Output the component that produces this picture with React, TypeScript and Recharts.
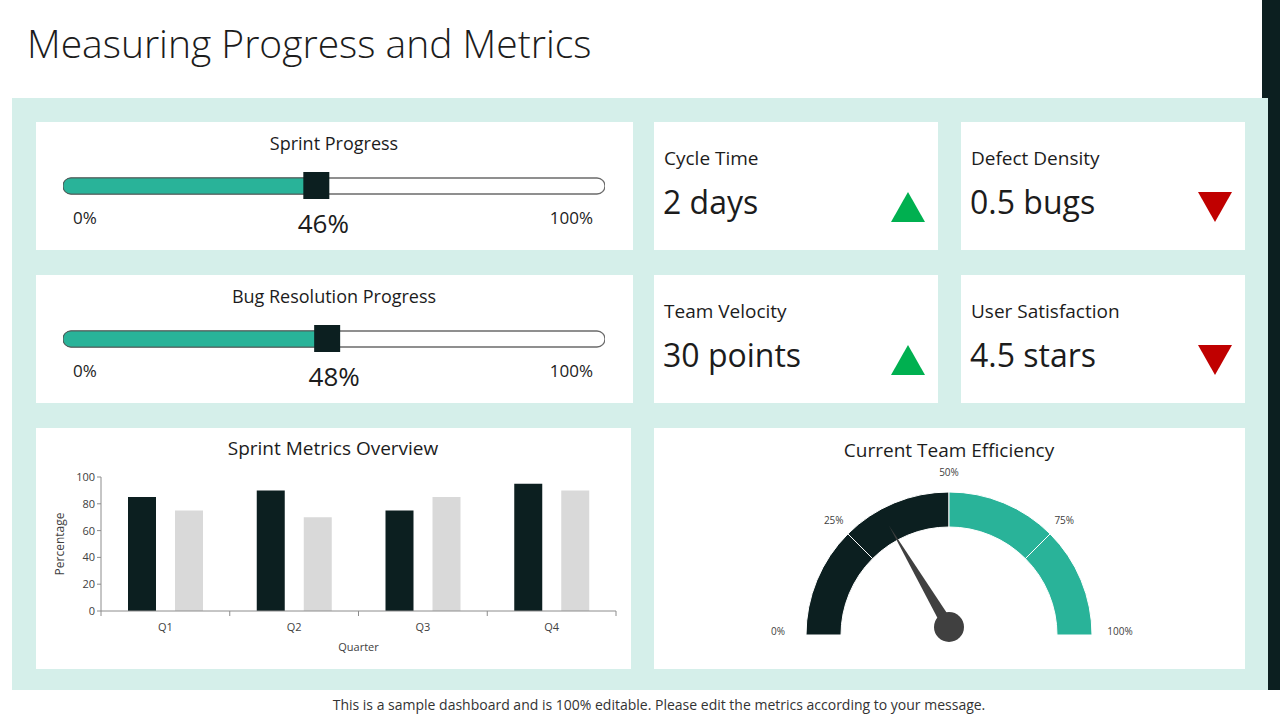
import React from 'react';
import { BarChart, Bar, XAxis, YAxis, PieChart, Pie, Cell } from 'recharts';

const FONT = '"Open Sans", "DejaVu Sans", sans-serif';
const TEAL = '#29b399';
const DARK = '#0c1f20';
const PANEL = '#d5efea';
const TEXT = '#1c1c1c';
const MUTED = '#404040';
const AXIS = '#8c8c8c';

// progress bars
const progressNames = ['Sprint Progress', 'Bug Resolution Progress'];
const progressValues = [46, 48];
const progressTicks = ['0%', '100%'];

// kpi cards
const kpiLabels = ['Cycle Time', 'Defect Density', 'Team Velocity', 'User Satisfaction'];
const kpiValues = ['2 days', '0.5 bugs', '30 points', '4.5 stars'];
const kpiTrend = ['up', 'down', 'up', 'down'];

// sprint metrics overview
const quarters = ['Q1', 'Q2', 'Q3', 'Q4'];
const seriesA = [85, 90, 75, 95];
const seriesB = [75, 70, 85, 90];
const yTicks = [0, 20, 40, 60, 80, 100];

// gauge
const gaugeBands = [25, 25, 25, 25];
const gaugeColors = [DARK, DARK, TEAL, TEAL];
const gaugeLabels = ['0%', '25%', '50%', '75%', '100%'];
const efficiency = 33;

const RAD = Math.PI / 180;

// text placed by baseline (Open Sans, line-height 1)
const T = ({ x, base, size, anchor = 'start', weight = 400, color = TEXT, children }: any) => {
  const style: React.CSSProperties = {
    position: 'absolute',
    top: base - 0.888 * size,
    fontSize: size,
    lineHeight: 1,
    fontWeight: weight,
    color,
    whiteSpace: 'nowrap',
  };
  if (anchor === 'start') style.left = x;
  else if (anchor === 'end') style.right = 1280 - x;
  else {
    style.left = x - 400;
    style.width = 800;
    style.textAlign = 'center';
  }
  return <div style={style}>{children}</div>;
};

const Card = ({ x, y, w, h, children }: any) => (
  <div style={{ position: 'absolute', left: x, top: y, width: w, height: h, background: '#fff' }}>{children}</div>
);

const Tri = ({ x, y, up }: any) => (
  <svg style={{ position: 'absolute', left: x, top: y }} width={34} height={30}>
    <polygon
      points={up ? '17,0 34,30 0,30' : '0,0 34,0 17,30'}
      fill={up ? '#00b050' : '#c00000'}
    />
  </svg>
);

// bar fill + dark marker + value label, all from the bar's own geometry
const ProgressShape = (props: any) => {
  const { x, y, width, height, payload } = props;
  const end = x + width;
  return (
    <g>
      <rect x={x} y={y} width={width} height={height} rx={8} fill={TEAL} stroke="#4d605c" strokeWidth={1} />
      <rect x={end - 9} y={y - 6} width={26} height={height + 11} fill={DARK} />
      <text x={end + 11} y={y + height / 2 + 47} textAnchor="middle" fontSize={26} fill={TEXT} fontFamily={FONT}>
        {payload.value}%
      </text>
    </g>
  );
};

const ProgressBar = ({ value }: { value: number }) => (
  <BarChart layout="vertical" width={542} height={120} data={[{ name: 'p', value }]} margin={{ top: 0, right: 0, bottom: 0, left: 0 }}>
    <XAxis type="number" domain={[0, 100]} hide />
    <YAxis type="category" dataKey="name" hide />
    <Bar
      dataKey="value"
      barSize={16}
      isAnimationActive={false}
      background={{ fill: '#fff', stroke: '#6b6b6b', strokeWidth: 1.3, radius: 8 }}
      shape={ProgressShape}
    />
  </BarChart>
);

// quarter label plus small tick marks on the category boundaries
const QuarterTick = (props: any) => {
  const { x, y, payload, index } = props;
  const half = payload?.offset ?? 64;
  const axisY = y - 12;
  return (
    <g>
      <line x1={x - half} x2={x - half} y1={axisY} y2={axisY + 5} stroke={AXIS} />
      {index === quarters.length - 1 && (
        <line x1={x + half} x2={x + half} y1={axisY} y2={axisY + 5} stroke={AXIS} />
      )}
      <text x={x} y={y} dy="0.71em" textAnchor="middle" fontSize={11} fill={MUTED} fontFamily={FONT}>
        {payload.value}
      </text>
    </g>
  );
};

const renderGaugeLabel = (p: any) => {
  const { cx, cy, startAngle, endAngle, outerRadius, index } = p;
  const at = (angle: number, text: string) => {
    const flat = Math.abs(Math.cos(angle * RAD)) > 0.99;
    const r = outerRadius + (flat ? 28 : 20);
    return (
      <text
        key={text}
        x={cx + r * Math.cos(-angle * RAD)}
        y={cy + r * Math.sin(-angle * RAD) - (flat ? 4 : 0)}
        textAnchor="middle"
        dominantBaseline="central"
        fontSize={10}
        fill={MUTED}
        fontFamily={FONT}
      >
        {text}
      </text>
    );
  };
  return (
    <g>
      {at(startAngle, gaugeLabels[index])}
      {index === gaugeBands.length - 1 && at(endAngle, gaugeLabels[index + 1])}
    </g>
  );
};

const renderNeedle = (p: any) => {
  const { cx, cy, endAngle, index } = p;
  if (index !== 0) return null;
  const px = cx;
  const py = cy - 8;
  const len = 118;
  const a = -endAngle * RAD;
  const tx = px + len * Math.cos(a);
  const ty = py + len * Math.sin(a);
  const nx = -Math.sin(a) * 6;
  const ny = Math.cos(a) * 6;
  return (
    <g>
      <polygon points={`${tx},${ty} ${px + nx},${py + ny} ${px - nx},${py - ny}`} fill={MUTED} />
      <circle cx={px} cy={py} r={15} fill={MUTED} />
    </g>
  );
};

export default function App() {
  const sprintData = quarters.map((q, i) => ({ quarter: q, a: seriesA[i], b: seriesB[i] }));
  const gaugeData = gaugeBands.map((v, i) => ({ name: gaugeLabels[i], value: v }));
  const needleData = [{ value: efficiency }, { value: 100 - efficiency }];
  const kpiPos = [
    [654, 122],
    [961, 122],
    [654, 275],
    [961, 275],
  ];

  return (
    <div style={{ position: 'fixed', left: 0, top: 0, width: 1280, height: 720, background: '#fff', overflow: 'hidden', fontFamily: FONT }}>
      <div style={{ position: 'absolute', left: 1262, top: 0, width: 18, height: 690, background: DARK }} />
      <div style={{ position: 'absolute', left: 12, top: 98, width: 1256, height: 592, background: PANEL }} />

      <T x={27} base={58} size={39} weight={300}>Measuring Progress and Metrics</T>

      {progressNames.map((name, i) => {
        const top = 122 + i * 153;
        return (
          <React.Fragment key={name}>
            <Card x={36} y={top} w={597} h={128} />
            <T x={334} base={top + 28} size={18} anchor="middle">{name}</T>
            <T x={73} base={top + 102} size={17}>{progressTicks[0]}</T>
            <T x={593} base={top + 102} size={17} anchor="end">{progressTicks[1]}</T>
            <div style={{ position: 'absolute', left: 63, top: top + 4 }}>
              <ProgressBar value={progressValues[i]} />
            </div>
          </React.Fragment>
        );
      })}

      {kpiLabels.map((label, i) => {
        const [x, y] = kpiPos[i];
        return (
          <React.Fragment key={label}>
            <Card x={x} y={y} w={284} h={128} />
            <T x={x + 10} base={y + 44} size={19}>{label}</T>
            <T x={x + 9} base={y + 92} size={32}>{kpiValues[i]}</T>
            <Tri x={x + 237} y={y + 70} up={kpiTrend[i] === 'up'} />
          </React.Fragment>
        );
      })}

      <Card x={36} y={428} w={595} h={241}>
        <BarChart
          width={595}
          height={241}
          data={sprintData}
          margin={{ top: 49, right: 15, bottom: 18, left: 20 }}
          barGap={19}
          style={{ fontFamily: FONT }}
        >
          <XAxis
            dataKey="quarter"
            height={40}
            tickSize={0}
            tickMargin={12}
            axisLine={{ stroke: AXIS }}
            tickLine={false}
            tick={QuarterTick}
            label={{ value: 'Quarter', position: 'insideBottom', offset: 0, fill: MUTED, fontSize: 11 }}
          />
          <YAxis
            domain={[0, 100]}
            ticks={yTicks}
            width={45}
            tickSize={4}
            axisLine={{ stroke: AXIS }}
            tickLine={{ stroke: AXIS }}
            tick={{ fill: MUTED, fontSize: 11 }}
            label={{ value: 'Percentage', angle: -90, position: 'insideLeft', offset: 4, style: { textAnchor: 'middle' }, fill: MUTED, fontSize: 12 }}
          />
          <Bar dataKey="a" fill={DARK} barSize={28} isAnimationActive={false} />
          <Bar dataKey="b" fill="#d9d9d9" barSize={28} isAnimationActive={false} />
        </BarChart>
      </Card>
      <T x={333} base={456} size={19} anchor="middle">Sprint Metrics Overview</T>

      <Card x={654} y={428} w={591} h={241}>
        <PieChart width={591} height={241} margin={{ top: 0, right: 0, bottom: 0, left: 0 }}>
          <Pie
            data={gaugeData}
            dataKey="value"
            cx={295}
            cy={207}
            startAngle={180}
            endAngle={0}
            innerRadius={108}
            outerRadius={143}
            stroke="#fff"
            strokeWidth={1}
            label={renderGaugeLabel}
            labelLine={false}
            isAnimationActive={false}
          >
            {gaugeData.map((d, i) => (
              <Cell key={d.name} fill={gaugeColors[i]} />
            ))}
          </Pie>
          <Pie
            data={needleData}
            dataKey="value"
            cx={295}
            cy={207}
            startAngle={180}
            endAngle={0}
            innerRadius={0}
            outerRadius={100}
            fill="none"
            stroke="none"
            label={renderNeedle}
            labelLine={false}
            isAnimationActive={false}
          />
        </PieChart>
      </Card>
      <T x={949} base={458} size={19} anchor="middle">Current Team Efficiency</T>

      <T x={659} base={710} size={14} anchor="middle" color="#333">
        This is a sample dashboard and is 100% editable. Please edit the metrics according to your message.
      </T>
    </div>
  );
}
